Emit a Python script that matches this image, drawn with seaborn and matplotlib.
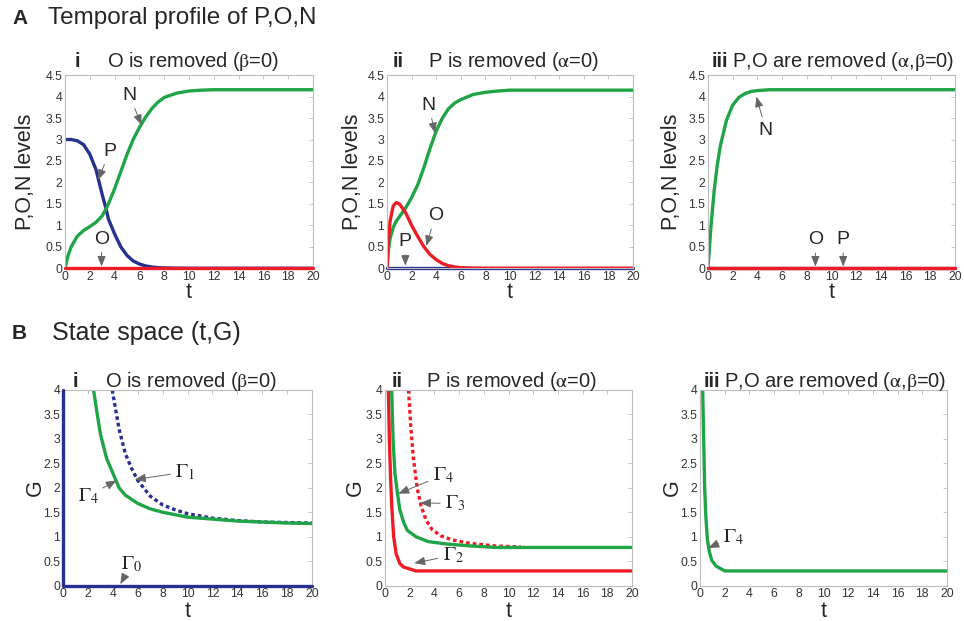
import numpy as np
import pandas as pd
import matplotlib
matplotlib.use("Agg")
import matplotlib.pyplot as plt
import seaborn as sns

# ---------------- data ----------------
# A-i : O removed
ai_t = [0, 0.25, 0.5, 1, 1.5, 2, 2.5, 3, 3.3, 3.5, 4, 4.5, 5, 5.5, 6, 6.5, 7, 7.5, 8, 9, 10, 11, 12, 14, 16, 18, 20]
ai_P = [3.0, 3.0, 3.0, 2.97, 2.88, 2.66, 2.3, 1.72, 1.4, 1.15, 0.8, 0.5, 0.3, 0.17, 0.1, 0.055, 0.03, 0.015, 0.008, 0.003, 0, 0, 0, 0, 0, 0, 0]
ai_N = [0, 0.3, 0.5, 0.75, 0.88, 0.97, 1.07, 1.22, 1.38, 1.5, 1.85, 2.25, 2.65, 3.0, 3.28, 3.52, 3.72, 3.87, 3.98, 4.08, 4.13, 4.15, 4.16, 4.16, 4.16, 4.16, 4.16]
ai_O = [0] * len(ai_t)

# A-ii : P removed
aii_t = [0, 0.1, 0.25, 0.5, 0.75, 1, 1.5, 2, 2.5, 3, 3.5, 4, 4.5, 5, 5.5, 6, 7, 8, 9, 10, 12, 14, 16, 18, 20]
aii_N = [0, 0.4, 0.7, 0.95, 1.1, 1.2, 1.4, 1.65, 1.95, 2.35, 2.8, 3.2, 3.5, 3.72, 3.85, 3.93, 4.05, 4.1, 4.13, 4.15, 4.15, 4.15, 4.15, 4.15, 4.15]
aii_O = [0, 0.6, 1.1, 1.45, 1.53, 1.5, 1.3, 1.0, 0.74, 0.5, 0.32, 0.2, 0.11, 0.06, 0.03, 0.015, 0.004, 0, 0, 0, 0, 0, 0, 0, 0]
aii_P = [0] * len(aii_t)

# A-iii : P, O removed
aiii_t = [0, 0.25, 0.5, 0.75, 1, 1.5, 2, 2.5, 3, 3.5, 4, 5, 6, 8, 10, 12, 14, 16, 18, 20]
aiii_N = [0, 1.0, 1.8, 2.4, 2.85, 3.45, 3.8, 3.98, 4.07, 4.12, 4.14, 4.16, 4.16, 4.16, 4.16, 4.16, 4.16, 4.16, 4.16, 4.16]
aiii_O = [0] * len(aiii_t)
aiii_P = [0] * len(aiii_t)

# B-i : state space, O removed
bi_g0_t = [0, 0, 20]
bi_g0_G = [4, 0, 0]
bi_g1_t = [3.95, 4.5, 5, 5.5, 6, 7, 8, 9, 10, 12, 14, 16, 18, 20]
bi_g1_G = [4.0, 3.2, 2.7, 2.4, 2.15, 1.83, 1.65, 1.55, 1.47, 1.38, 1.33, 1.3, 1.29, 1.28]
bi_g4_t = [2.45, 2.75, 3, 3.5, 4, 4.5, 5, 6, 7, 8, 9, 10, 12, 14, 16, 18, 20]
bi_g4_G = [4.0, 3.5, 3.1, 2.6, 2.3, 2.0, 1.85, 1.68, 1.57, 1.5, 1.45, 1.4, 1.36, 1.32, 1.3, 1.28, 1.27]

# B-ii : state space, P removed
bii_g2_t = [0.27, 0.35, 0.45, 0.55, 0.7, 0.9, 1.2, 1.5, 2, 2.5, 20]
bii_g2_G = [4.0, 3.0, 2.2, 1.6, 1.0, 0.65, 0.45, 0.38, 0.34, 0.3, 0.3]
bii_g4_t = [0.54, 0.65, 0.8, 1.0, 1.2, 1.5, 1.8, 2.5, 3.5, 5, 7, 9, 20]
bii_g4_G = [4.0, 3.0, 2.3, 1.9, 1.55, 1.3, 1.13, 1.0, 0.9, 0.85, 0.81, 0.78, 0.78]
bii_g3_t = [1.9, 2.1, 2.3, 2.6, 2.9, 3.3, 3.8, 4.5, 5.5, 7, 9, 11]
bii_g3_G = [4.0, 3.2, 2.6, 2.0, 1.65, 1.35, 1.15, 1.02, 0.93, 0.86, 0.81, 0.79]

# B-iii : state space, P,O removed
biii_g4_t = [0.22, 0.3, 0.38, 0.48, 0.6, 0.75, 0.95, 1.3, 2.0, 20]
biii_g4_G = [4.0, 3.0, 2.0, 1.4, 0.95, 0.7, 0.52, 0.4, 0.3, 0.3]

# ---------------- style ----------------
sns.set_theme(style="white")
plt.rcParams["font.family"] = ["Liberation Sans", "DejaVu Sans"]
plt.rcParams["mathtext.fontset"] = "stix"

GREEN = "#1fa447"
BLUE = "#27308f"
RED = "#ee1d25"
SPINE = "#bdbdbd"
LW = 2.4

fig = plt.figure(figsize=(9.64, 6.21), dpi=100)

def make_ax(rect, ymax, ystep):
    ax = fig.add_axes(rect)
    ax.set_xlim(0, 20)
    ax.set_ylim(0, ymax)
    ax.set_xticks(np.arange(0, 21, 2))
    ax.set_yticks(np.arange(0, ymax + 0.01, ystep))
    ax.set_xticklabels([str(v) for v in range(0, 21, 2)])
    ax.set_yticklabels([("%g" % v) for v in np.arange(0, ymax + 0.01, ystep)])
    ax.tick_params(direction="in", length=3, width=0.6, color=SPINE,
                   top=True, right=True, labelsize=8.8, labelcolor="#333333", pad=2)
    for s in ax.spines.values():
        s.set_color(SPINE)
        s.set_linewidth(0.8)
    return ax

def line(ax, x, y, color, dashed=False, z=2):
    sns.lineplot(x=x, y=y, ax=ax, color=color, linewidth=LW, estimator=None,
                 sort=False, legend=False, zorder=z)
    ln = ax.get_lines()[-1]
    if dashed:
        ln.set_dashes([1.1, 0.9])
    return ln

def labels(ax, ylabel, ylx, xly):
    ax.set_xlabel("t", fontsize=15.5)
    ax.xaxis.label.set_va("center")
    ax.xaxis.set_label_coords(0.5, xly)
    ax.set_ylabel(ylabel, fontsize=15.5)
    ax.yaxis.label.set_va("center")
    ax.yaxis.set_label_coords(ylx, 0.5)

def title(ax, num, txt, xnum, xtxt, y):
    ax.text(xnum, y, num, transform=ax.transAxes, fontsize=14.5, fontweight="bold",
            ha="center", va="baseline")
    ax.text(xtxt, y, txt, transform=ax.transAxes, fontsize=14.5, ha="left", va="baseline")

AP = dict(arrowstyle="-|>,head_length=0.45,head_width=0.18", color="#666666", lw=0.7,
          shrinkA=1, shrinkB=0)

def note(ax, s, xy, xytext, size=14):
    ax.annotate(s, xy=xy, xytext=xytext, fontsize=size, ha="center", va="center",
                arrowprops=AP, zorder=5)

# top row
top_b, top_h = 0.568, 0.311
axA1 = make_ax([0.0674, top_b, 0.2573, top_h], 4.5, 0.5)
axA2 = make_ax([0.4015, top_b, 0.2552, top_h], 4.5, 0.5)
axA3 = make_ax([0.7344, top_b, 0.2562, top_h], 4.5, 0.5)
# bottom row
bot_b, bot_h = 0.057, 0.315
axB1 = make_ax([0.0654, bot_b, 0.2583, bot_h], 4, 0.5)
axB2 = make_ax([0.3994, bot_b, 0.2562, bot_h], 4, 0.5)
axB3 = make_ax([0.7261, bot_b, 0.2562, bot_h], 4, 0.5)

BETA = "$\\mathrm{\\beta}$"
ALPHA = "$\\mathrm{\\alpha}$"

# A-i
line(axA1, ai_t, ai_P, BLUE)
line(axA1, ai_t, ai_N, GREEN)
l = line(axA1, ai_t, ai_O, RED, z=3); l.set_clip_on(False)
note(axA1, "N", (6.17, 3.34), (5.2, 4.03))
note(axA1, "P", (2.68, 2.06), (3.6, 2.72))
note(axA1, "O", (2.95, 0.04), (2.95, 0.68))
labels(axA1, "P,O,N levels", -0.161, -0.128)
title(axA1, "i", "O is removed (" + BETA + "=0)", 0.048, 0.17, 1.04)

# A-ii
l = line(axA2, aii_t, aii_P, BLUE); l.set_clip_on(False)
line(axA2, aii_t, aii_N, GREEN)
line(axA2, aii_t, aii_O, RED)
note(axA2, "N", (3.9, 3.15), (3.38, 3.8))
note(axA2, "O", (3.19, 0.52), (3.92, 1.22))
note(axA2, "P", (1.49, 0.06), (1.49, 0.62))
labels(axA2, "P,O,N levels", -0.142, -0.128)
title(axA2, "ii", "P is removed (" + ALPHA + "=0)", 0.045, 0.167, 1.04)

# A-iii
line(axA3, aiii_t, aiii_N, GREEN)
l = line(axA3, aiii_t, aiii_P, BLUE); l.set_clip_on(False)
l = line(axA3, aiii_t, aiii_O, RED, z=3); l.set_clip_on(False)
note(axA3, "N", (3.92, 4.0), (4.68, 3.22))
note(axA3, "O", (8.7, 0.04), (8.7, 0.66))
note(axA3, "P", (10.95, 0.04), (10.95, 0.66))
labels(axA3, "P,O,N levels", -0.146, -0.128)
title(axA3, "iii", "P,O are removed (" + ALPHA + "," + BETA + "=0)", 0.05, 0.097, 1.04)

# B-i
l = line(axB1, bi_g0_t, bi_g0_G, BLUE, z=4); l.set_clip_on(False)
line(axB1, bi_g1_t, bi_g1_G, BLUE, dashed=True)
line(axB1, bi_g4_t, bi_g4_G, GREEN)
note(axB1, "$\\Gamma_1$", (5.77, 2.17), (9.8, 2.32), size=14.5)
note(axB1, "$\\Gamma_4$", (4.3, 2.15), (2.0, 1.83), size=14.5)
note(axB1, "$\\Gamma_0$", (4.6, 0.03), (5.5, 0.44), size=14.5)
labels(axB1, "G", -0.112, -0.13)
title(axB1, "i", "O is removed (" + BETA + "=0)", 0.048, 0.17, 1.015)

# B-ii
line(axB2, bii_g3_t, bii_g3_G, RED, dashed=True)
line(axB2, bii_g2_t, bii_g2_G, RED)
line(axB2, bii_g4_t, bii_g4_G, GREEN)
note(axB2, "$\\Gamma_4$", (1.08, 1.88), (4.7, 2.26), size=14.5)
note(axB2, "$\\Gamma_3$", (2.83, 1.69), (5.66, 1.68), size=14.5)
note(axB2, "$\\Gamma_2$", (2.37, 0.46), (5.5, 0.62), size=14.5)
labels(axB2, "G", -0.121, -0.13)
title(axB2, "ii", "P is removed (" + ALPHA + "=0)", 0.05, 0.167, 1.015)

# B-iii
line(axB3, biii_g4_t, biii_g4_G, GREEN)
note(axB3, "$\\Gamma_4$", (0.68, 0.77), (2.7, 1.0), size=14.5)
labels(axB3, "G", -0.113, -0.13)
title(axB3, "iii", "P,O are removed (" + ALPHA + "," + BETA + "=0)", 0.05, 0.097, 1.015)

# section headers
fig.text(12 / 964, 1 - 18 / 621, "A", fontsize=15, fontweight="bold", va="center")
fig.text(48 / 964, 1 - 18 / 621, "Temporal profile of P,O,N", fontsize=17.5, va="center")
fig.text(12 / 964, 1 - 333 / 621, "B", fontsize=15, fontweight="bold", va="center")
fig.text(52 / 964, 1 - 333 / 621, "State space (t,G)", fontsize=18, va="center")

fig.savefig("out.png", dpi=100)
